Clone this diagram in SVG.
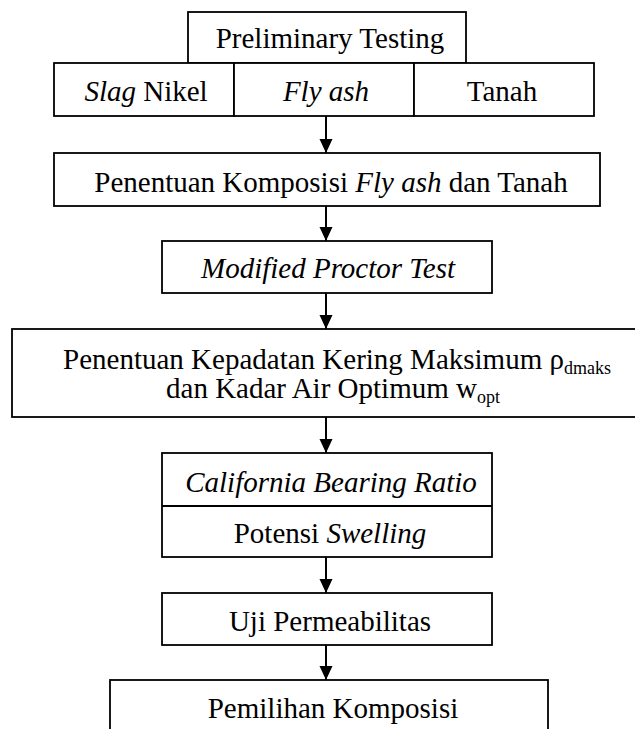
<svg xmlns="http://www.w3.org/2000/svg" width="635" height="729" viewBox="0 0 635 729">
<style>
.box{fill:#fff;stroke:#000;stroke-width:1.8}
.t{font-family:"Liberation Serif","Times New Roman",serif;font-size:29px;fill:#000;text-anchor:middle}
.i{font-style:italic}
.sub{font-size:18px}
.con line{stroke:#000;stroke-width:2}
</style>
<defs>
<marker id="arr" viewBox="0 0 14 14" refX="14" refY="7" markerWidth="14" markerHeight="14" orient="auto" markerUnits="userSpaceOnUse">
<path d="M0,0.5 L14,7 L0,13.5 z" fill="#000"/>
</marker>
</defs>
<rect width="635" height="729" fill="#fff"/>

<g id="preliminary">
<rect class="box" x="188" y="12" width="278" height="51"/>
<text class="t" x="330" y="48">Preliminary Testing</text>
</g>
<g id="slag">
<rect class="box" x="54" y="63" width="180" height="53"/>
<text class="t" x="146" y="101"><tspan class="i">Slag</tspan> Nikel</text>
</g>
<g id="flyash">
<rect class="box" x="234" y="63" width="180" height="53"/>
<text class="t i" x="326" y="101">Fly ash</text>
</g>
<g id="tanah">
<rect class="box" x="414" y="63" width="180" height="53"/>
<text class="t" x="502" y="101">Tanah</text>
</g>
<g id="komposisi">
<rect class="box" x="54" y="153" width="546" height="53"/>
<text class="t" x="331" y="192">Penentuan Komposisi <tspan class="i">Fly ash</tspan> dan Tanah</text>
</g>
<g id="proctor">
<rect class="box" x="162" y="241" width="330" height="52"/>
<text class="t i" x="328" y="278">Modified Proctor Test</text>
</g>
<g id="kepadatan">
<rect class="box" x="12" y="329" width="630" height="88"/>
<text class="t" x="337" y="369">Penentuan Kepadatan Kering Maksimum ρ<tspan class="sub" dy="5">dmaks</tspan></text>
<text class="t" x="333" y="398">dan Kadar Air Optimum w<tspan class="sub" dy="5">opt</tspan></text>
</g>
<g id="cbr">
<rect class="box" x="162" y="453" width="330" height="104"/>
<line x1="162" y1="506" x2="492" y2="506" stroke="#000" stroke-width="1.8"/>
<text class="t i" x="331" y="492">California Bearing Ratio</text>
<text class="t" x="330" y="543">Potensi <tspan class="i">Swelling</tspan></text>
</g>
<g id="permeabilitas">
<rect class="box" x="162" y="593" width="330" height="52"/>
<text class="t" x="330" y="631">Uji Permeabilitas</text>
</g>
<g id="pemilihan">
<rect class="box" x="110" y="680" width="438" height="70"/>
<text class="t" x="333" y="718">Pemilihan Komposisi</text>
</g>

<g id="connectors" class="con">
<line x1="326" y1="116" x2="326" y2="153" marker-end="url(#arr)"/>
<line x1="326" y1="206" x2="326" y2="241" marker-end="url(#arr)"/>
<line x1="326" y1="293" x2="326" y2="329" marker-end="url(#arr)"/>
<line x1="326" y1="417" x2="326" y2="453" marker-end="url(#arr)"/>
<line x1="326" y1="557" x2="326" y2="593" marker-end="url(#arr)"/>
<line x1="326" y1="645" x2="326" y2="680" marker-end="url(#arr)"/>
</g>
</svg>
